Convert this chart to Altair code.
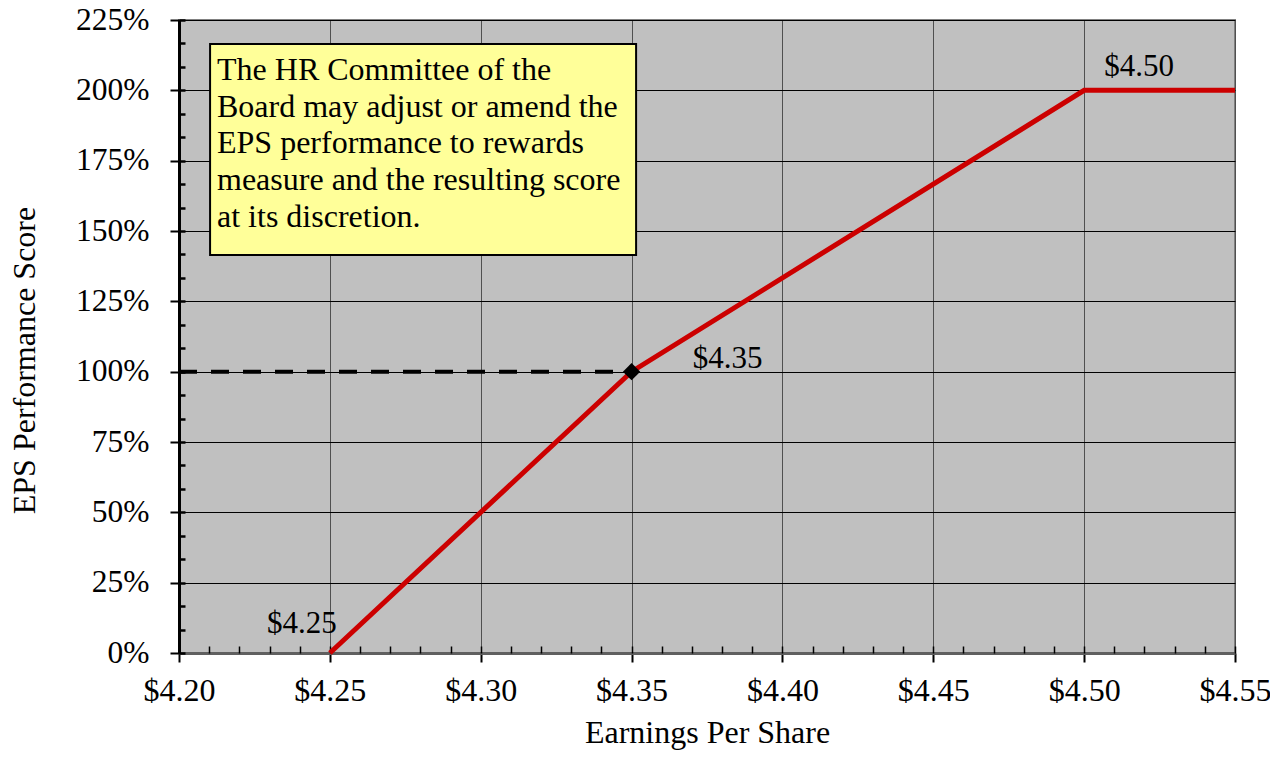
import altair as alt
import pandas as pd

# ---- data ----
eps = [4.25, 4.35, 4.50, 4.55]
score = [0, 100, 200, 200]

target_eps = [4.35]
target_score = [100]

ref_eps = [4.20, 4.35]
ref_score = [100, 100]

label_text = ["$4.25", "$4.35", "$4.50"]
label_eps = [4.25, 4.35, 4.50]
label_score = [0, 100, 200]

x_ticks = [4.20, 4.25, 4.30, 4.35, 4.40, 4.45, 4.50, 4.55]
x_minor = [4.20, 4.21, 4.22, 4.23, 4.24, 4.25, 4.26, 4.27, 4.28, 4.29, 4.30,
           4.31, 4.32, 4.33, 4.34, 4.35, 4.36, 4.37, 4.38, 4.39, 4.40,
           4.41, 4.42, 4.43, 4.44, 4.45, 4.46, 4.47, 4.48, 4.49, 4.50,
           4.51, 4.52, 4.53, 4.54, 4.55]
y_ticks = [0, 25, 50, 75, 100, 125, 150, 175, 200, 225]
y_minor = [i * 25 / 3 for i in range(28)]

note_lines = ["The HR Committee of the",
              "Board may adjust or amend the",
              "EPS performance to rewards",
              "measure and the resulting score",
              "at its discretion."]
box_eps = [4.2103, 4.3515]
box_score = [216.5, 141.5]
note_eps = [4.2126]
note_score = [203.7]

title_text = "Performance to Rewards Measure"

FONT = "Liberation Serif"

xscale = alt.Scale(domain=[4.20, 4.55], nice=False, zero=False)
yscale = alt.Scale(domain=[0, 225], nice=False, zero=True)

line_df = pd.DataFrame({"eps": eps, "score": score})

x_axis = alt.Axis(values=x_ticks, format="$.2f", title="Earnings Per Share",
                  labelFont=FONT, labelFontSize=32, labelColor="black",
                  labelFlush=False, labelOverlap=False,
                  labelPadding=13, tickSize=9, tickColor="black", tickWidth=2,
                  domainColor="#606060", domainWidth=3,
                  grid=True, gridColor="#505050", gridWidth=1,
                  titleFont=FONT, titleFontSize=32, titleFontWeight="normal",
                  titleColor="black", titleY=89, titleBaseline="alphabetic")
y_axis = alt.Axis(values=y_ticks, labelExpr="datum.value + '%'",
                  title="EPS Performance Score",
                  labelFont=FONT, labelFontSize=31.5, labelColor="black",
                  labelFlush=False, labelOverlap=False,
                  labelPadding=21, tickSize=9, tickColor="black", tickWidth=2,
                  domainColor="black", domainWidth=3,
                  grid=True, gridColor="black", gridWidth=1,
                  titleFont=FONT, titleFontSize=32, titleFontWeight="normal",
                  titleColor="black", titleAngle=270, titleX=-145, titleY=340,
                  titleAlign="center", titleBaseline="alphabetic")

# minor tick axes (inward)
minor_df = pd.DataFrame({"eps": [4.20], "score": [0]})
minor = alt.Chart(minor_df).mark_point(opacity=0).encode(
    x=alt.X("eps:Q", scale=xscale,
            axis=alt.Axis(orient="bottom", values=x_minor, offset=-7, tickSize=7,
                          tickColor="black", tickWidth=1.5, labels=False,
                          domain=False, grid=False, title=None)),
    y=alt.Y("score:Q", scale=yscale,
            axis=alt.Axis(orient="left", values=y_minor, offset=-6, tickSize=6,
                          tickColor="black", tickWidth=2.5, labels=False,
                          domain=False, grid=False, title=None)),
)

base_line = alt.Chart(line_df).mark_line(color="#CC0000", strokeWidth=5).encode(
    x=alt.X("eps:Q", scale=xscale, axis=x_axis),
    y=alt.Y("score:Q", scale=yscale, axis=y_axis),
)

box_df = pd.DataFrame({"x1": [box_eps[0]], "x2": [box_eps[1]],
                       "y1": [box_score[0]], "y2": [box_score[1]]})
box = alt.Chart(box_df).mark_rect(fill="#FFFF99", stroke="black", strokeWidth=2).encode(
    x=alt.X("x1:Q", scale=xscale, axis=None), x2="x2:Q",
    y=alt.Y("y1:Q", scale=yscale, axis=None), y2="y2:Q",
)

note_df = pd.DataFrame({"eps": note_eps, "score": note_score,
                        "text": ["\n".join(note_lines)]})
note = alt.Chart(note_df).mark_text(
    font=FONT, fontSize=32, align="left", baseline="alphabetic",
    lineBreak="\n", lineHeight=36.7, color="black"
).encode(
    x=alt.X("eps:Q", scale=xscale, axis=None),
    y=alt.Y("score:Q", scale=yscale, axis=None),
    text="text:N",
)

ref_df = pd.DataFrame({"eps": ref_eps, "score": ref_score})
ref = alt.Chart(ref_df).mark_line(color="black", strokeWidth=4,
                                  strokeDash=[18, 14]).encode(
    x=alt.X("eps:Q", scale=xscale, axis=None),
    y=alt.Y("score:Q", scale=yscale, axis=None),
)

pt_df = pd.DataFrame({"eps": target_eps, "score": target_score})
pt = alt.Chart(pt_df).mark_point(shape="diamond", filled=True, color="black",
                                 size=300, opacity=1).encode(
    x=alt.X("eps:Q", scale=xscale, axis=None),
    y=alt.Y("score:Q", scale=yscale, axis=None),
)

offsets = [(-28, -20), (96, -4), (55, -14)]
labels = []
for t, e, s, (dx, dy) in zip(label_text, label_eps, label_score, offsets):
    ldf = pd.DataFrame({"eps": [e], "score": [s], "text": [t]})
    labels.append(
        alt.Chart(ldf).mark_text(font=FONT, fontSize=31, color="black",
                                 align="center", baseline="alphabetic",
                                 dx=dx, dy=dy).encode(
            x=alt.X("eps:Q", scale=xscale, axis=None),
            y=alt.Y("score:Q", scale=yscale, axis=None),
            text="text:N",
        )
    )

title_df = pd.DataFrame({"text": [title_text]})
title = alt.Chart(title_df).mark_text(font=FONT, fontSize=32, color="black",
                                      align="center", baseline="alphabetic").encode(
    x=alt.value(490), y=alt.value(-16), text="text:N"
)

chart = alt.layer(base_line, minor, box, note, ref, pt,
                  *labels, title).resolve_axis(
    x="independent", y="independent"
).properties(
    width=1056, height=633,
    autosize=alt.AutoSizeParams(type="none"),
    padding={"left": 171, "top": 12, "right": 35, "bottom": 98},
).configure_view(
    fill="#C0C0C0", stroke="#808080", strokeWidth=2
)

chart.save("out.html", embed_options={"renderer": "svg", "actions": False})
